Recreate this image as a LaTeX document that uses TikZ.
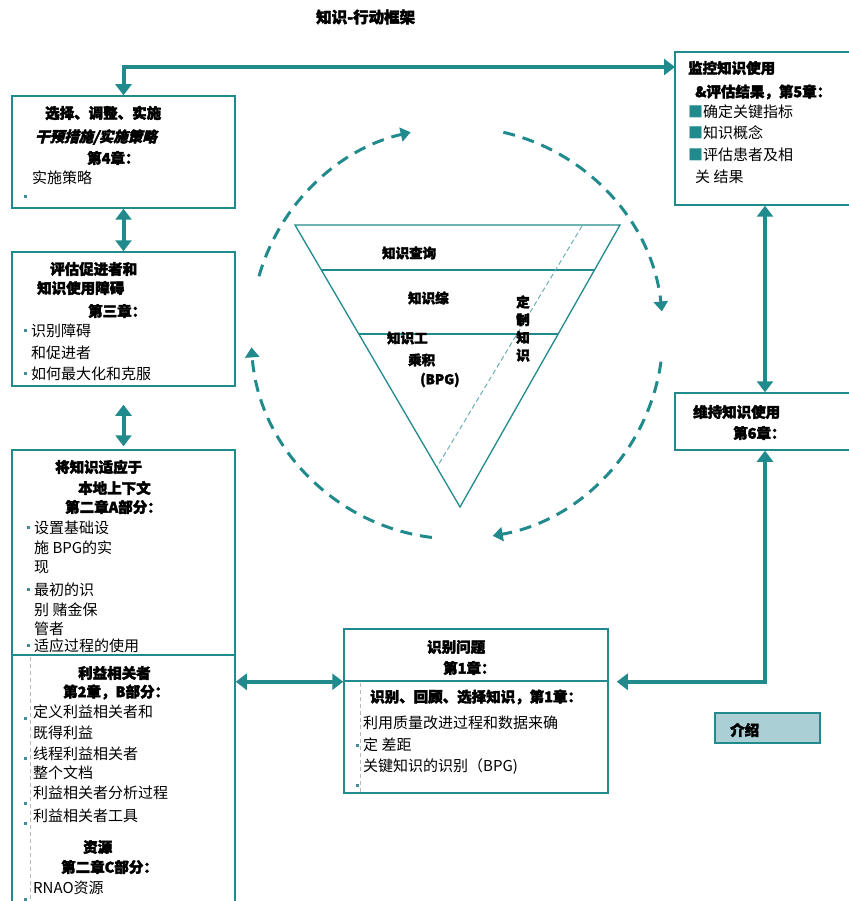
\documentclass[tikz,border=0pt]{standalone}
\usepackage{fontspec}
\setmainfont{Noto Sans CJK SC}[BoldFeatures={FakeBold=2.5}]
\newfontfamily\slantfont{Noto Sans CJK SC}[FakeSlant=0.25, BoldFeatures={FakeBold=2.5}]
\usetikzlibrary{arrows.meta}
\definecolor{tl}{RGB}{32,138,140}
\definecolor{tll}{RGB}{110,175,182}
\definecolor{introfill}{RGB}{170,207,213}
\definecolor{dt}{RGB}{70,140,150}
\newcommand\bul{\textcolor{dt}{\rule[0.3em]{3pt}{3pt}}\hspace{4pt}}
\begin{document}
\begin{tikzpicture}[x=1pt,y=-1pt,
  box/.style={draw=tl, line width=1.5pt, fill=white, inner sep=0pt, minimum width=223pt},
  txt/.style={anchor=west, inner sep=0pt, font=\fontsize{15}{15}\selectfont},
  hd/.style={anchor=west, inner sep=0pt, font=\fontsize{14.5}{15}\selectfont\bfseries},
  tri/.style={anchor=west, inner sep=0pt, font=\fontsize{13.5}{14}\selectfont\bfseries},
  conn/.style={draw=tl, line width=4pt},
  dbl/.style={conn, {Triangle[width=16pt,length=11pt]}-{Triangle[width=16pt,length=11pt]}},
  dasharc/.style={draw=tl, line width=3pt, dash pattern=on 12pt off 8pt, -{Triangle[width=14pt,length=10pt]}},
  sep/.style={draw=gray!55, line width=0.7pt, dash pattern=on 4pt off 3pt}
]
\useasboundingbox (0,0) rectangle (848,901);

% boxes
\node[box, minimum height=112pt] (b4) at (123.5,152) {};
\node[box, minimum height=134pt] (b3) at (123.5,319) {};
\node[box, minimum height=205pt] (b2a) at (123.5,552.5) {};
\node[box, minimum height=255pt] (b2b) at (123.5,782.5) {};
\node[box, minimum width=180pt, minimum height=153pt] (b5) at (765,128.5) {};
\node[box, minimum width=180pt, minimum height=57pt] (b6) at (765,421.5) {};
\node[box, minimum width=264pt, minimum height=52pt] (b1top) at (476,655) {};
\node[box, minimum width=264pt, minimum height=112pt] (b1bot) at (476,737) {};
\node[box, minimum width=105pt, minimum height=30pt, fill=introfill] (intro) at (767.5,728) {};

% inner dashed separators
\draw[sep] (30,657) -- (30,901);
\draw[sep] (360,683) -- (360,792);

% title
\node[hd, font=\fontsize{15.5}{16}\selectfont\bfseries] (title) at (316,17) {知识-行动框架};

% box 4
\node[hd] (t4a) at (45,113) {选择、调整、实施};
\node[hd, font=\fontsize{14.5}{15}\slantfont\bfseries] (t4b) at (35,137) {干预措施/实施策略};
\node[hd] (t4c) at (87,158) {第4章：};
\node[txt] (t4d) at (32,178) {实施策略};
\fill[dt] (24,195) rectangle (27,198);

% box 3
\node[hd] (t3a) at (50,269) {评估促进者和};
\node[hd] (t3b) at (37,288) {知识使用障碍};
\node[hd] (t3c) at (88,311) {第三章：};
\node[txt] (t3d) at (24,331) {\bul 识别障碍};
\node[txt] (t3e) at (31,353) {和促进者};
\node[txt] (t3f) at (24,374) {\bul 如何最大化和克服};

% box 2A
\node[hd] (a1) at (55,467) {将知识适应于};
\node[hd] (a2) at (78,488) {本地上下文};
\node[hd] (a3) at (65,507) {第二章A部分：};
\node[txt] (a4) at (27,528) {\bul 设置基础设};
\node[txt] (a5) at (34,548) {施 BPG的实};
\node[txt] (a6) at (34,567) {现};
\node[txt] (a7) at (27,590) {\bul 最初的识};
\node[txt] (a8) at (34,610) {别 赌金保};
\node[txt] (a9) at (34,629) {管者};
\node[txt] (a10) at (27,646) {\bul 适应过程的使用};

% box 2B
\node[hd] (e1) at (78,673) {利益相关者};
\node[hd] (e2) at (63,692) {第2章，B部分：};
\node[txt] (e3) at (33,712) {定义利益相关者和};
\node[txt] (e4) at (33,733) {既得利益};
\node[txt] (e5) at (33,754) {线程利益相关者};
\node[txt] (e6) at (33,773) {整个文档};
\node[txt] (e7) at (33,793) {利益相关者分析过程};
\node[txt] (e8) at (33,816) {利益相关者工具};
\node[hd] (e9) at (83,847) {资源};
\node[hd] (e10) at (61,867) {第二章C部分：};
\node[txt] (e11) at (33,888) {RNAO资源};
\foreach \yy in {717,757,802,822,898} \fill[dt] (24,\yy) rectangle (27,\yy+3);

% box 5
\node[hd] (f1) at (688,68) {监控知识使用};
\node[hd] (f2) at (695,92) {\&评估结果，第5章：};
\node[txt] (f3) at (688,112) {\textcolor{tl}{■}确定关键指标};
\node[txt] (f4) at (688,133) {\textcolor{tl}{■}知识概念};
\node[txt] (f5) at (688,155) {\textcolor{tl}{■}评估患者及相};
\node[txt] (f6) at (695,177) {关 结果};

% box 6
\node[hd] (g1) at (693,412) {维持知识使用};
\node[hd] (g2) at (733,433) {第6章：};

% box 1
\node[hd] (h1) at (427,647) {识别问题};
\node[hd] (h2) at (443,668) {第1章：};
\node[hd] (h3) at (370,697) {识别、回顾、选择知识，第1章：};
\node[txt] (h4) at (363,723) {利用质量改进过程和数据来确};
\node[txt] (h5) at (363,745) {定 差距};
\node[txt] (h6) at (363,767) {关键知识的识别（BPG)};
\fill[dt] (356,744) rectangle (359,747);
\fill[dt] (356,784) rectangle (359,787);

% intro
\node[hd] (i1) at (730,730) {介绍};

% triangle
\draw[tl, line width=1.3pt] (295,225) -- (620,225) -- (460,507) -- cycle;
\draw[tl, line width=1.3pt] (321.3,270) -- (594.5,270);
\draw[tl, line width=1.3pt] (358.8,334) -- (558.2,334);
\draw[tll, line width=1pt, dash pattern=on 5pt off 3pt] (582,226) -- (437,467);
\node[tri] (k1) at (382,253) {知识查询};
\node[tri] (k2) at (408,298) {知识综};
\node[tri] (k3) at (387,338) {知识工};
\node[tri] (k4) at (408,360) {乘积};
\node[tri] (k5) at (420,380) {(BPG)};
\node[inner sep=0pt, align=center, font=\fontsize{13.5}{17.7}\selectfont\bfseries] (k6) at (523,328.5) {定\\制\\知\\识};

% dashed cycle
\coordinate (cc) at (457,333);
\draw[dasharc] (cc) ++(196:206) arc[start angle=196, end angle=257, radius=206];
\draw[dasharc] (cc) ++(283:206) arc[start angle=283, end angle=354, radius=206];
\draw[dasharc] (cc) ++(8:206) arc[start angle=8, end angle=80, radius=206];
\draw[dasharc] (cc) ++(97:206) arc[start angle=97, end angle=176, radius=206];

% connectors
\coordinate (tr) at (675,67);
\draw[dbl] (b4.north) |- (tr);
\draw[dbl] (b4.south) -- (b3.north);
\draw[dbl, shorten <=18pt, shorten >=3pt] (b3.south) -- (b2a.north);
\draw[dbl] (b2b.east |- b1top.south) -- (b1top.south west);
\draw[dbl, shorten <=8pt] (b1top.south east) -| (b6.south);
\draw[dbl] (b5.south) -- (b6.north);
\end{tikzpicture}
\end{document}
